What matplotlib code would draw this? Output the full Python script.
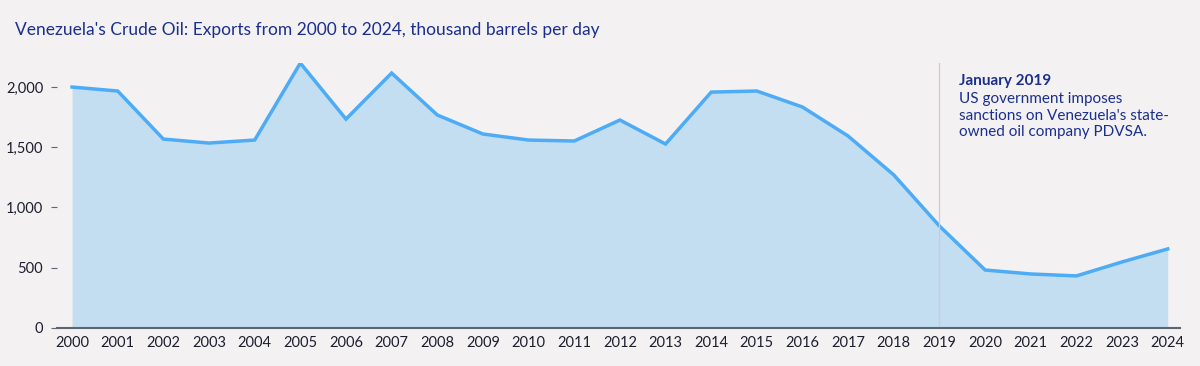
import matplotlib.pyplot as plt
from matplotlib.ticker import FuncFormatter

years = list(range(2000, 2025))
exports = [2000, 1967, 1568, 1535, 1560, 2199, 1734, 2116, 1768, 1610,
           1560, 1552, 1726, 1527, 1958, 1967, 1834, 1593, 1270, 846,
           481, 448, 432, 548, 656]

bg = '#f3f1f2'
navy = '#1b2f8f'

plt.rcParams['font.family'] = ['Lato', 'DejaVu Sans']

fig = plt.figure(figsize=(12, 3.66), dpi=100, facecolor=bg)
ax = fig.add_axes([0.0475, 0.104, 0.9355, 0.724], facecolor=bg)

ax.fill_between(years, exports, 0, color='#c3ddf1', lw=0)
ax.plot(years, exports, color='#4dacf5', lw=2.5, solid_joinstyle='miter')

ax.axvline(2019, color='#d8c8cc', lw=0.9)

ax.set_xlim(1999.67, 2024.26)
ax.set_ylim(0, 2200)
ax.set_xticks(years)
ax.set_yticks([0, 500, 1000, 1500, 2000])
ax.yaxis.set_major_formatter(FuncFormatter(lambda v, p: f'{int(v):,}'))

for s in ['top', 'right', 'left']:
    ax.spines[s].set_visible(False)
ax.spines['bottom'].set_color('#5f6472')
ax.spines['bottom'].set_linewidth(1.5)
ax.tick_params(axis='x', length=0, pad=6, labelsize=10.5, labelcolor='#1e1f2e')
ax.tick_params(axis='y', length=4, width=0.8, color='#5f6472', pad=6,
               labelsize=10.5, labelcolor='#1e1f2e')

fig.text(0.0125, 0.918, "Venezuela's Crude Oil: Exports from 2000 to 2024, thousand barrels per day",
         fontsize=12.5, color=navy, va='center', ha='left')

ax.text(2019.42, 2110, 'January 2019', fontsize=11, fontweight='bold',
        color=navy, va='top', ha='left')
ax.text(2019.42, 1955, "US government imposes\nsanctions on Venezuela's state-\nowned oil company PDVSA.",
        fontsize=11, color=navy, va='top', ha='left', linespacing=1.2)

fig.savefig('out.png', dpi=100, facecolor=bg)
